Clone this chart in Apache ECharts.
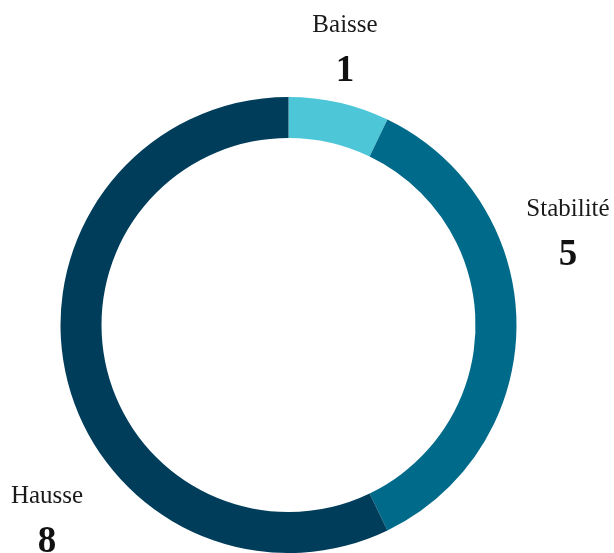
<!DOCTYPE html>
<html>
<head>
<meta charset="utf-8">
<script src="https://cdn.jsdelivr.net/npm/echarts@6/dist/echarts.min.js"></script>
<style>
  html, body { margin: 0; padding: 0; background: #ffffff; }
  #chart { width: 614px; height: 553px; }
</style>
</head>
<body>
<div id="chart"></div>
<script>
// Répartition des tendances
const categories = ['Baisse', 'Stabilité', 'Hausse'];
const values = [1, 5, 8];
const colors = ['#4dc6d7', '#006a8a', '#003d5b'];

// Label anchor points (block centres) for each slice, in px
const labelSpots = [[345, 51], [568, 235], [47, 522]];

const chart = echarts.init(document.getElementById('chart'), null, { renderer: 'canvas' });

chart.setOption({
  animation: false,
  series: [{
    type: 'pie',
    center: [288.5, 325],
    radius: [187, 228],
    startAngle: 90,
    clockwise: true,
    avoidLabelOverlap: false,
    silent: true,
    data: categories.map((name, i) => ({
      name: name,
      value: values[i],
      itemStyle: { color: colors[i] }
    })),
    itemStyle: { borderWidth: 0 },
    label: {
      show: true,
      position: 'outside',
      formatter: p => '{name|' + p.name + '}\n{val|' + p.value + '}',
      rich: {
        name: {
          fontFamily: 'Liberation Serif',
          fontSize: 25,
          color: '#1a1a1a',
          lineHeight: 40,
          align: 'center'
        },
        val: {
          fontFamily: 'Liberation Serif',
          fontSize: 37,
          fontWeight: 'bold',
          color: '#111111',
          lineHeight: 52,
          align: 'center'
        }
      }
    },
    labelLine: { show: false },
    labelLayout: params => ({
      x: labelSpots[params.dataIndex][0],
      y: labelSpots[params.dataIndex][1],
      align: 'center',
      verticalAlign: 'middle'
    })
  }]
});
</script>
</body>
</html>
